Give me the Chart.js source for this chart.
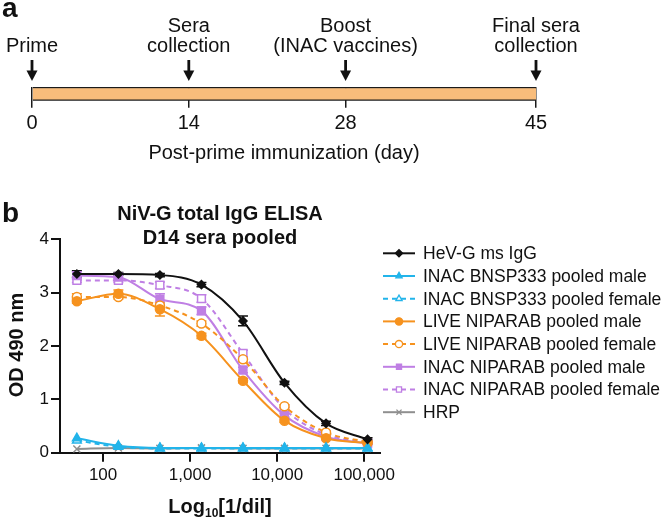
<!DOCTYPE html>
<html>
<head>
<meta charset="utf-8">
<script src="https://cdn.jsdelivr.net/npm/chart.js@4.4.0/dist/chart.umd.min.js"></script>
<style>
  body { margin: 0; background: #fff; }
  #wrap { position: relative; width: 664px; height: 517px; }
  #timeline { position: absolute; left: 0; top: 0; }
  #elisa { position: absolute; left: 0; top: 170px; }
</style>
</head>
<body>
<div id="wrap">
  <canvas id="timeline" width="664" height="170"></canvas>
  <canvas id="elisa" width="664" height="347"></canvas>
</div>
<script>
const FONT = '"Liberation Sans", Arial, sans-serif';

// panel a - immunization schedule
const eventDays = [0, 14, 28, 45];
const eventLabels = [
  ['Prime'],
  ['Sera', 'collection'],
  ['Boost', '(INAC vaccines)'],
  ['Final sera', 'collection']
];
const timelineTitle = 'Post-prime immunization (day)';

// panel b - ELISA
const dilutions = [50, 150, 450, 1350, 4050, 12150, 36450, 109350];
const xTicks = [100, 1000, 10000, 100000];
const seriesNames = [
  'HeV-G ms IgG',
  'INAC BNSP333 pooled male',
  'INAC BNSP333 pooled female',
  'LIVE NIPARAB pooled male',
  'LIVE NIPARAB pooled female',
  'INAC NIPARAB pooled male',
  'INAC NIPARAB pooled female',
  'HRP'
];
const hevG = [3.35, 3.35, 3.33, 3.15, 2.47, 1.31, 0.55, 0.25];
const hevGErr = [0.06, 0.03, 0.03, 0.04, 0.09, 0.03, 0.04, 0.03];
const bnspMale = [0.27, 0.13, 0.09, 0.09, 0.09, 0.09, 0.09, 0.09];
const bnspFemale = [0.23, 0.11, 0.08, 0.08, 0.08, 0.08, 0.08, 0.08];
const liveMale = [2.84, 2.98, 2.69, 2.19, 1.35, 0.60, 0.27, 0.18];
const liveMaleErr = [0.04, 0.07, 0.13, 0.05, 0.04, 0.03, 0.02, 0.02];
const liveFemale = [2.92, 2.92, 2.76, 2.42, 1.75, 0.87, 0.38, 0.20];
const liveFemaleErr = [0.06, 0.04, 0.05, 0.05, 0.05, 0.03, 0.02, 0.02];
const inacMale = [3.32, 3.29, 2.88, 2.66, 1.55, 0.70, 0.30, 0.17];
const inacMaleErr = [0.07, 0.04, 0.10, 0.07, 0.05, 0.03, 0.02, 0.02];
const inacFemale = [3.23, 3.23, 3.14, 2.89, 1.86, 0.82, 0.34, 0.19];
const inacFemaleErr = [0.04, 0.04, 0.06, 0.07, 0.06, 0.03, 0.02, 0.02];
const hrp = [0.07, 0.09, 0.08, 0.09, 0.08, 0.08, 0.08, 0.08];

const BLACK = '#111111';
const CYAN = '#22b4ea';
const ORANGE = '#f6921e';
const PURPLE = '#bf7fe4';
const GREY = '#8f8f8f';

// ---------- panel a ----------
const timelineDecor = {
  id: 'timelineDecor',
  afterDraw(chart) {
    const { ctx, chartArea } = chart;
    const x = chart.scales.x;
    ctx.save();
    ctx.fillStyle = BLACK;
    ctx.textAlign = 'center';
    ctx.textBaseline = 'middle';
    ctx.font = '20px ' + FONT;
    eventDays.forEach((d, i) => {
      const px = x.getPixelForValue(d);
      const tip = chartArea.top - 6;
      ctx.fillRect(px - 1.4, tip - 21, 2.8, 12);
      ctx.beginPath();
      ctx.moveTo(px - 5.5, tip - 10.5);
      ctx.lineTo(px + 5.5, tip - 10.5);
      ctx.lineTo(px, tip);
      ctx.closePath();
      ctx.fill();
      const lines = eventLabels[i];
      lines.forEach((t, j) => {
        ctx.fillText(t, px, 46 - (lines.length - 1 - j) * 20);
      });
    });
    ctx.fillText(timelineTitle, (chartArea.left + chartArea.right) / 2, 153);
    ctx.font = 'bold 28px ' + FONT;
    ctx.textAlign = 'left';
    ctx.textBaseline = 'alphabetic';
    ctx.fillText('a', 2, 17);
    ctx.restore();
  }
};

new Chart(document.getElementById('timeline'), {
  type: 'bar',
  data: {
    labels: ['schedule'],
    datasets: [{
      data: [[eventDays[0], eventDays[eventDays.length - 1]]],
      backgroundColor: '#f9bd7b',
      borderColor: '#1a1a1a',
      borderWidth: { top: 1.5, bottom: 1.5, left: 0, right: 0 },
      borderSkipped: false,
      barPercentage: 1,
      categoryPercentage: 1
    }]
  },
  options: {
    indexAxis: 'y',
    responsive: false,
    animation: false,
    layout: { padding: { left: 32, right: 128, top: 87, bottom: 29.3 } },
    plugins: { legend: { display: false }, tooltip: { enabled: false } },
    scales: {
      x: {
        type: 'linear',
        min: eventDays[0],
        max: eventDays[eventDays.length - 1],
        z: 1,
        afterBuildTicks: s => { s.ticks = eventDays.map(v => ({ value: v })); },
        afterFit: s => { s.height = 40; },
        grid: { drawOnChartArea: true, drawTicks: true, tickLength: 7, color: '#1a1a1a', lineWidth: 1.5 },
        border: { display: false },
        ticks: { font: { size: 20, family: FONT }, color: BLACK, padding: 4, maxRotation: 0, autoSkip: false }
      },
      y: { display: false }
    }
  },
  plugins: [timelineDecor]
});

// ---------- panel b ----------
const toPoints = arr => arr.map((v, i) => ({ x: dilutions[i], y: v }));

function series(name, values, errors, color, style, filled, dashed, radius) {
  return {
    label: name,
    data: toPoints(values),
    errors: errors,
    borderColor: color,
    borderWidth: 2,
    borderDash: dashed ? [5, 4] : [],
    pointStyle: style,
    pointRadius: radius,
    pointBorderWidth: 1.5,
    pointBorderColor: color,
    pointBackgroundColor: filled ? color : '#ffffff',
    cubicInterpolationMode: 'monotone',
    fill: false
  };
}

const datasets = [
  series(seriesNames[0], hevG, hevGErr, BLACK, 'rectRot', true, false, 4),
  series(seriesNames[1], bnspMale, null, CYAN, 'triangle', true, false, 5),
  series(seriesNames[2], bnspFemale, null, CYAN, 'triangle', false, true, 5),
  series(seriesNames[3], liveMale, liveMaleErr, ORANGE, 'circle', true, false, 4.5),
  series(seriesNames[4], liveFemale, liveFemaleErr, ORANGE, 'circle', false, true, 4.5),
  series(seriesNames[5], inacMale, inacMaleErr, PURPLE, 'rect', true, false, 5.5),
  series(seriesNames[6], inacFemale, inacFemaleErr, PURPLE, 'rect', false, true, 5.5),
  series(seriesNames[7], hrp, null, GREY, 'crossRot', false, false, 5)
];

const errorBars = {
  id: 'errorBars',
  beforeDatasetsDraw(chart) {
    const { ctx } = chart;
    const x = chart.scales.x, y = chart.scales.y;
    ctx.save();
    ctx.lineWidth = 1.5;
    chart.data.datasets.forEach(ds => {
      if (!ds.errors) return;
      ctx.strokeStyle = ds.borderColor;
      ds.data.forEach((p, j) => {
        const e = ds.errors[j];
        const px = x.getPixelForValue(p.x);
        const top = y.getPixelForValue(p.y + e);
        const bot = y.getPixelForValue(Math.max(0, p.y - e));
        ctx.beginPath();
        ctx.moveTo(px, top); ctx.lineTo(px, bot);
        ctx.moveTo(px - 5, top); ctx.lineTo(px + 5, top);
        ctx.moveTo(px - 5, bot); ctx.lineTo(px + 5, bot);
        ctx.stroke();
      });
    });
    ctx.restore();
  }
};

const elisaDecor = {
  id: 'elisaDecor',
  afterDraw(chart) {
    const { ctx, chartArea } = chart;
    const cx = (chartArea.left + chartArea.right) / 2;
    ctx.save();
    ctx.fillStyle = BLACK;

    // titles
    ctx.font = 'bold 20px ' + FONT;
    ctx.textAlign = 'center';
    ctx.textBaseline = 'alphabetic';
    ctx.fillText('NiV-G total IgG ELISA', cx, 50);
    ctx.fillText('D14 sera pooled', cx, 74);

    // y title
    ctx.save();
    ctx.translate(23, 175);
    ctx.rotate(-Math.PI / 2);
    ctx.fillText('OD 490 nm', 0, 0);
    ctx.restore();

    // x title with subscript
    const big = 'bold 20px ' + FONT, small = 'bold 12px ' + FONT;
    ctx.font = big; const w1 = ctx.measureText('Log').width;
    const w3 = ctx.measureText('[1/dil]').width;
    ctx.font = small; const w2 = ctx.measureText('10').width;
    let sx = cx - (w1 + w2 + w3) / 2;
    ctx.textAlign = 'left';
    ctx.font = big; ctx.fillText('Log', sx, 343); sx += w1;
    ctx.font = small; ctx.fillText('10', sx, 347); sx += w2;
    ctx.font = big; ctx.fillText('[1/dil]', sx, 343);

    // panel letter
    ctx.font = 'bold 28px ' + FONT;
    ctx.fillText('b', 2, 52);

    // legend
    ctx.font = '17.5px ' + FONT;
    ctx.textBaseline = 'middle';
    chart.data.datasets.forEach((ds, i) => {
      const y = 83.3 + i * 22.7;
      ctx.strokeStyle = ds.borderColor;
      ctx.lineWidth = 2;
      ctx.setLineDash(ds.borderDash);
      ctx.beginPath();
      ctx.moveTo(383, y); ctx.lineTo(415, y);
      ctx.stroke();
      ctx.setLineDash([]);
      ctx.lineWidth = 1.3;
      ctx.fillStyle = ds.pointBackgroundColor;
      ctx.strokeStyle = ds.pointBorderColor;
      Chart.helpers.drawPoint(ctx, { pointStyle: ds.pointStyle, radius: 3.6, borderWidth: 1.3, rotation: 0 }, 399, y);
      ctx.fillStyle = BLACK;
      ctx.fillText(ds.label, 423, y + 1);
    });
    ctx.restore();
  }
};

new Chart(document.getElementById('elisa'), {
  type: 'line',
  data: { datasets: datasets },
  options: {
    responsive: false,
    animation: false,
    layout: { padding: { left: 10, right: 284, top: 69.3, bottom: 24.3 } },
    plugins: { legend: { display: false }, tooltip: { enabled: false } },
    scales: {
      x: {
        type: 'logarithmic',
        min: 32,
        max: 152000,
        afterBuildTicks: s => { s.ticks = xTicks.map(v => ({ value: v })); },
        afterFit: s => { s.height = 40; },
        grid: { drawOnChartArea: false, drawTicks: true, tickLength: 9, color: BLACK, lineWidth: 2 },
        border: { color: BLACK, width: 2 },
        ticks: {
          font: { size: 17, family: FONT }, color: BLACK, padding: 3,
          maxRotation: 0, autoSkip: false,
          callback: v => Number(v).toLocaleString('en-US')
        }
      },
      y: {
        min: 0,
        max: 4,
        afterFit: s => { s.width = 50; },
        grid: { drawOnChartArea: false, drawTicks: true, tickLength: 9, color: BLACK, lineWidth: 2 },
        border: { color: BLACK, width: 2 },
        ticks: { stepSize: 1, font: { size: 17, family: FONT }, color: BLACK, padding: 2 }
      }
    }
  },
  plugins: [errorBars, elisaDecor]
});
</script>
</body>
</html>
